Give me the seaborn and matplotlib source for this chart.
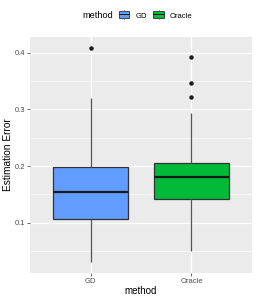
import seaborn as sns
import pandas as pd
import matplotlib.pyplot as plt
from matplotlib.patches import Patch, Rectangle
from matplotlib.lines import Line2D
from matplotlib.legend_handler import HandlerBase
from matplotlib.ticker import MultipleLocator
from matplotlib.offsetbox import HPacker

# estimation errors (quartiles, whiskers and outliers)
gd_err = [0.030, 0.080, 0.106, 0.130, 0.155, 0.180, 0.199, 0.320, 0.409]
oracle_err = [0.050, 0.090, 0.110, 0.130, 0.141, 0.150, 0.160, 0.170, 0.180,
              0.185, 0.190, 0.200, 0.205, 0.293, 0.322, 0.346, 0.392]
methods = ["GD", "Oracle"]
colors = {"GD": "#619CFF", "Oracle": "#00BA38"}

df = pd.DataFrame({
    "method": ["GD"] * len(gd_err) + ["Oracle"] * len(oracle_err),
    "err": gd_err + oracle_err,
})


class BoxKey(HandlerBase):
    # ggplot-like boxplot legend key
    def create_artists(self, legend, orig, xd, yd, w, h, fontsize, trans):
        fc = orig.get_facecolor()
        cx = xd + w / 2
        rect = Rectangle((xd, yd - h * 0.05), w, h * 1.1, facecolor=fc,
                         edgecolor="#333333", linewidth=0.6, transform=trans)
        med = Line2D([xd, xd + w], [yd + h / 2] * 2, color="#1a1a1a",
                     linewidth=0.7, transform=trans)
        wt = Line2D([cx, cx], [yd + h * 1.05, yd + h * 1.35], color="#555555",
                    linewidth=0.5, transform=trans)
        wb = Line2D([cx, cx], [yd - h * 0.35, yd - h * 0.05], color="#555555",
                    linewidth=0.5, transform=trans)
        return [rect, med, wt, wb]


plt.rcParams["font.family"] = ["Liberation Sans", "DejaVu Sans"]

fig = plt.figure(figsize=(2.58, 3.0), dpi=100)
ax = fig.add_axes([30/258, 27/300, 222/258, 236/300])
ax.set_facecolor("#EBEBEB")

sns.boxplot(data=df, x="method", y="err", hue="method", order=methods,
            palette=colors, saturation=1, width=0.75, legend=False, ax=ax,
            zorder=3, linewidth=0.9, linecolor="#333333",
            whiskerprops=dict(color="#555555", linewidth=0.9),
            capprops=dict(linewidth=0),
            medianprops=dict(color="#1a1a1a", linewidth=1.6),
            flierprops=dict(marker="o", markersize=2.2, markerfacecolor="#1a1a1a",
                            markeredgecolor="#1a1a1a"))

ax.set_xlim(-0.6, 1.6)
ax.set_ylim(0.011, 0.428)
ax.yaxis.set_major_locator(MultipleLocator(0.1))
ax.yaxis.set_minor_locator(MultipleLocator(0.05))
ax.grid(which="major", color="white", linewidth=0.9, zorder=0)
ax.grid(which="minor", axis="y", color="white", linewidth=0.45, zorder=0)
ax.set_axisbelow(True)
for s in ax.spines.values():
    s.set_visible(False)

ax.set_yticks([0.1, 0.2, 0.3, 0.4])
ax.set_yticklabels(["0.1", "0.2", "0.3", "0.4"])
ax.tick_params(axis="both", which="major", labelsize=5.5, colors="#4D4D4D",
               length=2, width=0.6, pad=1.5)
ax.tick_params(axis="y", which="minor", length=0)
ax.set_xlabel("method", fontsize=7, labelpad=1)
ax.set_ylabel("Estimation Error", fontsize=7.3, labelpad=1)

handles = [Patch(facecolor=colors[m], label=m) for m in methods]
leg = fig.legend(handles=handles, title="method", loc="center", ncol=2,
                 bbox_to_anchor=(0.533, 0.947), frameon=False, fontsize=5.5,
                 title_fontsize=6.6, handlelength=1.4, handleheight=0.8,
                 handletextpad=0.8, columnspacing=0.8,
                 handler_map={Patch: BoxKey()})
# put title on the same row as keys
title_box = leg._legend_title_box
body = leg._legend_handle_box
leg._legend_box._children = [HPacker(children=[title_box, body], align="center",
                                     pad=0, sep=4)]

plt.savefig("out.png", dpi=100)
